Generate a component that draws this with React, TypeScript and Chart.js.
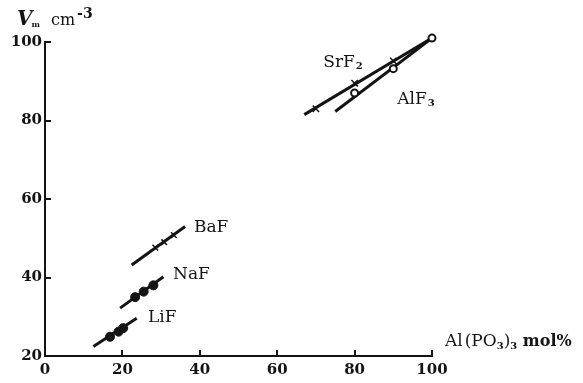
import React, { useEffect, useRef } from "react";
import { Chart, registerables } from "chart.js";

Chart.register(...registerables);

// Axis ranges and tick values
const xTicks = [0, 20, 40, 60, 80, 100];
const yTicks = [20, 40, 60, 80, 100];

// LiF: fitted line ends and measured points
const lifLineX = [12.5, 23.7];
const lifLineY = [22.4, 29.6];
const lifPtsX = [16.8, 19.0, 20.2];
const lifPtsY = [24.9, 26.2, 27.1];

// NaF
const nafLineX = [19.4, 30.6];
const nafLineY = [32.2, 40.2];
const nafPtsX = [23.3, 25.5, 28.0];
const nafPtsY = [35.0, 36.4, 38.0];

// BaF
const bafLineX = [22.4, 36.2];
const bafLineY = [43.2, 53.0];
const bafPtsX = [28.5, 30.8, 33.3];
const bafPtsY = [47.6, 49.0, 50.8];

// SrF2
const srLineX = [67.0, 100.0];
const srLineY = [81.5, 101.0];
const srPtsX = [70.0, 80.0, 90.0];
const srPtsY = [83.0, 89.5, 95.2];

// AlF3
const alLineX = [75.0, 100.0];
const alLineY = [82.3, 101.0];
const alPtsX = [80.0, 90.0, 100.0];
const alPtsY = [87.0, 93.2, 101.0];

// Series names (main part + subscript) and where they are written
const seriesNames = ["LiF", "NaF", "BaF", "SrF", "AlF"];
const seriesSubs = ["", "", "", "2", "3"];
const nameAtX = [26.6, 33.1, 38.5, 71.9, 91.0];
const nameAtY = [29.7, 40.7, 52.7, 94.7, 85.3];

const INK = "#141414";
const SERIF = "'DejaVu Serif', 'Liberation Serif', serif";

const pts = (xs: number[], ys: number[]) => xs.map((x, i) => ({ x, y: ys[i] }));

const lineSet = (xs: number[], ys: number[]) => ({
  data: pts(xs, ys),
  showLine: true,
  borderColor: INK,
  borderWidth: 3,
  pointRadius: 0,
  clip: false as const,
  order: 2,
});

const markSet = (xs: number[], ys: number[], style: string, fill: string, r: number, bw: number) => ({
  data: pts(xs, ys),
  showLine: false,
  pointStyle: style,
  pointRadius: r,
  pointBackgroundColor: fill,
  pointBorderColor: INK,
  pointBorderWidth: bw,
  clip: false as const,
  order: 1,
});

type Run = { t: string; font: string; dx?: number; dy?: number };

function drawRuns(ctx: CanvasRenderingContext2D, x: number, y: number, runs: Run[]) {
  let cx = x;
  for (const r of runs) {
    ctx.font = r.font;
    cx += r.dx || 0;
    ctx.fillText(r.t, cx, y + (r.dy || 0));
    cx += ctx.measureText(r.t).width;
  }
}

const decorations = {
  id: "decorations",
  afterDraw(chart: any) {
    const { ctx, chartArea: a } = chart;
    const xs = chart.scales.x;
    const ys = chart.scales.y;
    ctx.save();
    ctx.strokeStyle = INK;
    ctx.fillStyle = INK;
    ctx.lineWidth = 2;

    // inward tick marks
    for (const v of xTicks) {
      const px = Math.round(xs.getPixelForValue(v));
      ctx.beginPath();
      ctx.moveTo(px, a.bottom);
      ctx.lineTo(px, a.bottom - 6);
      ctx.stroke();
    }
    for (const v of yTicks) {
      const py = Math.round(ys.getPixelForValue(v));
      ctx.beginPath();
      ctx.moveTo(a.left, py);
      ctx.lineTo(a.left + 6, py);
      ctx.stroke();
    }

    // series names
    ctx.textBaseline = "middle";
    ctx.textAlign = "left";
    seriesNames.forEach((name, i) => {
      const px = xs.getPixelForValue(nameAtX[i]);
      const py = ys.getPixelForValue(nameAtY[i]);
      const runs: Run[] = [{ t: name, font: `17px ${SERIF}` }];
      if (seriesSubs[i]) runs.push({ t: seriesSubs[i], font: `bold 10px ${SERIF}`, dx: 1, dy: 4 });
      drawRuns(ctx, px, py, runs);
    });

    // y-axis title: V_m cm^-3
    ctx.textBaseline = "alphabetic";
    drawRuns(ctx, a.left - 28, a.top - 17, [
      { t: "V", font: `italic bold 20px ${SERIF}` },
      { t: "m", font: `bold 8px ${SERIF}`, dx: -1, dy: 2 },
      { t: "cm", font: `16px ${SERIF}`, dx: 11 },
      { t: "-3", font: `bold 14px ${SERIF}`, dx: 2, dy: -7 },
    ]);

    // x-axis title: Al(PO3)3 mol%
    drawRuns(ctx, a.right + 13, a.bottom - 10, [
      { t: "Al", font: `17px ${SERIF}` },
      { t: "(PO", font: `17px ${SERIF}`, dx: 2 },
      { t: "3", font: `bold 10px ${SERIF}`, dy: 3 },
      { t: ")", font: `17px ${SERIF}` },
      { t: "3", font: `bold 10px ${SERIF}`, dy: 3 },
      { t: " mol%", font: `bold 16px ${SERIF}` },
    ]);
    ctx.restore();
  },
};

export default function App() {
  const ref = useRef<HTMLCanvasElement | null>(null);

  useEffect(() => {
    if (!ref.current) return;
    const tickFont = { family: SERIF, size: 15, weight: "bold" as const };
    const chart = new Chart(ref.current, {
      type: "scatter",
      data: {
        datasets: [
          lineSet(lifLineX, lifLineY),
          lineSet(nafLineX, nafLineY),
          lineSet(bafLineX, bafLineY),
          lineSet(srLineX, srLineY),
          lineSet(alLineX, alLineY),
          markSet(lifPtsX, lifPtsY, "circle", INK, 4.5, 1),
          markSet(nafPtsX, nafPtsY, "circle", INK, 4.5, 1),
          markSet(bafPtsX, bafPtsY, "crossRot", INK, 4, 1.5),
          markSet(srPtsX, srPtsY, "crossRot", INK, 4.5, 1.5),
          markSet(alPtsX, alPtsY, "circle", "#ffffff", 3.5, 2),
        ] as any,
      },
      options: {
        animation: false,
        responsive: true,
        maintainAspectRatio: false,
        layout: { padding: { top: 42, right: 151, left: 0, bottom: 0 } },
        plugins: { legend: { display: false }, tooltip: { enabled: false }, title: { display: false } },
        scales: {
          x: {
            type: "linear",
            min: 0,
            max: 100,
            afterFit: (s: any) => { s.height = 27; },
            afterBuildTicks: (s: any) => { s.ticks = xTicks.map((v) => ({ value: v })); },
            grid: { display: false, drawTicks: false },
            border: { display: true, color: INK, width: 2 },
            ticks: { color: INK, font: tickFont, padding: 5, maxRotation: 0 },
          },
          y: {
            type: "linear",
            min: 20,
            max: 100,
            afterFit: (s: any) => { s.width = 45; },
            afterBuildTicks: (s: any) => { s.ticks = yTicks.map((v) => ({ value: v })); },
            grid: { display: false, drawTicks: false },
            border: { display: true, color: INK, width: 2 },
            ticks: { color: INK, font: tickFont, padding: 3 },
          },
        },
      },
      plugins: [decorations],
    });
    return () => chart.destroy();
  }, []);

  return (
    <div style={{ position: "fixed", left: 0, top: 0, width: 583, height: 383, background: "#fff" }}>
      <canvas ref={ref} />
    </div>
  );
}
